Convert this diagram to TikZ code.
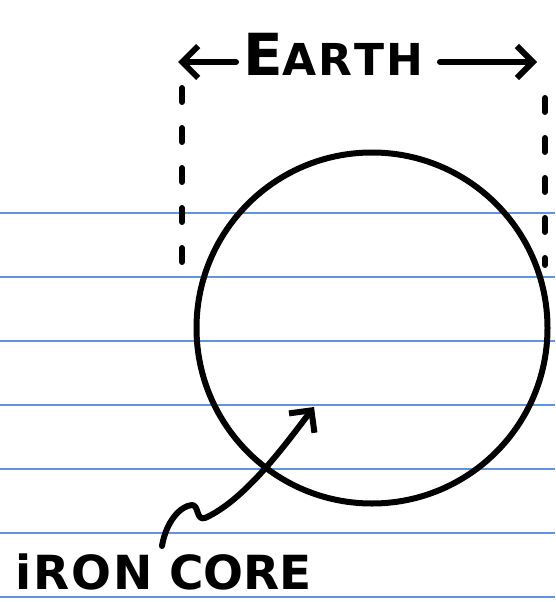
\documentclass[tikz,border=0pt]{standalone}
\usepackage{fontspec}
\setmainfont{DejaVu Sans}
\usetikzlibrary{arrows.meta}
\definecolor{ruleblue}{RGB}{96,148,224}
\begin{document}
\begin{tikzpicture}[x=1pt,y=-1pt,
  ink/.style={draw=black, line width=6pt, line cap=round, line join=round},
  rule/.style={draw=ruleblue, line width=1.2pt},
  barb/.style={-{Straight Barb[length=16pt,width=32pt,line width=6pt]}},
  dashline/.style={ink, dash pattern=on 14pt off 26pt},
  lbl/.style={inner sep=0pt, anchor=base west, font=\bfseries}
]
\useasboundingbox (0,0) rectangle (555,602);
\fill[white] (0,0) rectangle (555,602);
% ruled paper lines
\foreach \yy in {213,277,341,405,469,533,597}
  \draw[rule] (0,\yy) -- (555,\yy);
% the Earth
\node[ink, circle, minimum size=351pt, inner sep=0pt] (earth) at (372,328) {};
% dashed extent lines
\coordinate (lt) at (182,88);
\coordinate (lb) at (182,272);
\coordinate (rt) at (545,98);
\coordinate (rb) at (545,265);
\draw[dashline] (lt) -- (lb);
\draw[dashline] (rt) -- (rb);
% label EARTH
\node[lbl] (earthlbl) at (243,75) {\fontsize{58}{58}\selectfont E\fontsize{44}{44}\selectfont A\kern2pt R\kern2pt T\kern2pt H};
\coordinate (al) at (178,62);
\coordinate (ar) at (537,62);
\coordinate (all) at (236,62);
\coordinate (arr) at (440,62);
\draw[ink, barb] (all) -- (al);
\draw[ink, barb] (arr) -- (ar);
% iron core label and pointer
\node[lbl] (iron) at (15,589) {\fontsize{47}{47}\selectfont i\kern2pt R\kern2pt O\kern2pt N CORE};
\coordinate (tail) at (162,546);
\coordinate (core) at (314,407);
\draw[ink, barb] (tail) .. controls (166,522) and (180,506) .. (192,505)
  .. controls (199,505) and (196,521) .. (205,518)
  .. controls (245,500) and (285,445) .. (core);
\end{tikzpicture}
\end{document}
